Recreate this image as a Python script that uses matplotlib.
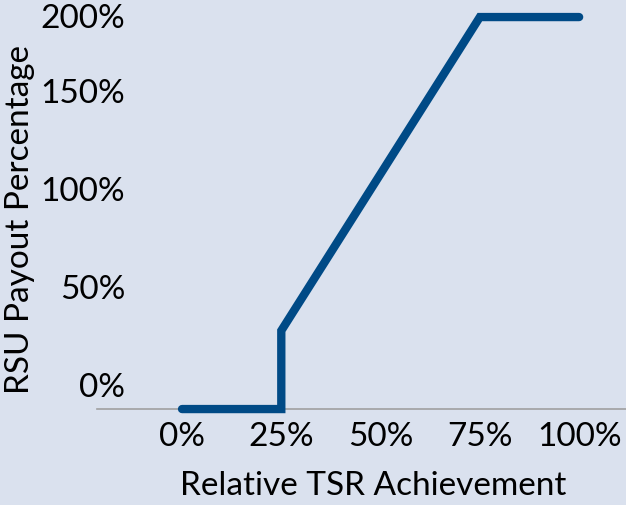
import matplotlib
matplotlib.use("Agg")
import matplotlib.pyplot as plt
import matplotlib.transforms as mtransforms

# relative TSR achievement (%) vs RSU payout (%)
tsr = [0, 25, 25, 75, 100]
payout = [0, 0, 40, 200, 200]

x_ticks = [0, 25, 50, 75, 100]
x_labels = ["0%", "25%", "50%", "75%", "100%"]
y_ticks = [0, 50, 100, 150, 200]
y_labels = ["0%", "50%", "100%", "150%", "200%"]

BG = "#dae1ee"
LINE = "#004a86"
FS = 24

plt.rcParams["font.family"] = ["Lato", "DejaVu Sans"]

fig = plt.figure(figsize=(6.26, 5.05), dpi=100, facecolor=BG)
ax = fig.add_axes([0.155, 0.19, 0.845, 0.81], facecolor=BG)

ax.plot(tsr, payout, color=LINE, lw=6, solid_capstyle="round",
        solid_joinstyle="miter", clip_on=False, zorder=3)

ax.set_xlim(-21.4, 111.8)
ax.set_ylim(0, 208.7)

for s in ["top", "right", "left"]:
    ax.spines[s].set_visible(False)
ax.spines["bottom"].set_color("#a0a0a0")
ax.spines["bottom"].set_linewidth(1.2)

ax.set_xticks(x_ticks)
ax.set_xticklabels(x_labels, fontsize=FS)
ax.tick_params(axis="x", length=0, pad=9)
ax.set_yticks([])

# y labels sit just above their value, the top one is pulled down to fit
trans = mtransforms.blended_transform_factory(ax.transAxes, ax.transData)
for val, lab in zip(y_ticks, y_labels):
    dy = 9 if val < max(y_ticks) else -8
    ax.annotate(lab, xy=(0.053, val), xycoords=trans, xytext=(0, dy),
                textcoords="offset points", ha="right", va="baseline",
                fontsize=FS, annotation_clip=False)

ax.set_xlabel("Relative TSR Achievement", fontsize=FS, labelpad=14, x=0.523)
fig.text(0.032, 0.565, "RSU Payout Percentage", rotation=90, fontsize=FS,
         ha="center", va="center")

fig.savefig("out.png", dpi=100, facecolor=BG)
